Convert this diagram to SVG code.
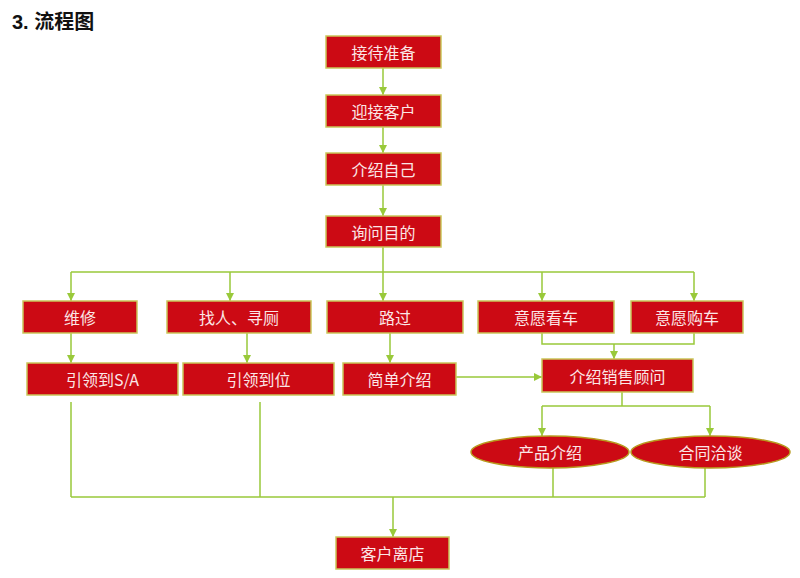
<svg xmlns="http://www.w3.org/2000/svg" width="800" height="578" viewBox="0 0 800 578">
<defs>
<marker id="ah" viewBox="0 0 10 10" refX="10" refY="5" markerWidth="8" markerHeight="8" markerUnits="userSpaceOnUse" orient="auto">
<path d="M0,0 L10,5 L0,10 Z" fill="#99C93A"/>
</marker>
<style>
.box{fill:#CC0A14;stroke:#C9C65A;stroke-width:1.5}
.ell{fill:#CC0A14;stroke:#B89A1E;stroke-width:1.5}
.t{font-family:"Noto Sans CJK SC","Liberation Sans",sans-serif;font-size:16px;fill:#FBE6E6;text-anchor:middle;dominant-baseline:central}
.c{fill:none;stroke:#99C93A;stroke-width:1.5}
.a{marker-end:url(#ah)}
</style>
</defs>
<rect width="800" height="578" fill="#FFFFFF"/>
<text x="12" y="29" font-family="'Liberation Sans','Noto Sans CJK SC',sans-serif" font-size="20" font-weight="bold" fill="#111">3. 流程图</text>

<g id="connectors">
<path class="c a" d="M383,68 V95"/>
<path class="c a" d="M383,127 V153"/>
<path class="c a" d="M383,185 V216"/>
<path class="c" d="M383,247 V272"/>
<path class="c" d="M71,272 H694"/>
<path class="c a" d="M71,272 V301"/>
<path class="c a" d="M230,272 V301"/>
<path class="c a" d="M383,272 V301"/>
<path class="c a" d="M542,272 V301"/>
<path class="c a" d="M694,272 V301"/>
<path class="c a" d="M71,333 V363"/>
<path class="c a" d="M247,333 V363"/>
<path class="c a" d="M390,333 V363"/>
<path class="c" d="M542,333 V344 H694 V333"/>
<path class="c a" d="M614,344 V359"/>
<path class="c a" d="M456,377 H542"/>
<path class="c" d="M622,392 V406"/>
<path class="c" d="M542,406 H710"/>
<path class="c a" d="M542,406 V436"/>
<path class="c a" d="M710,406 V436"/>
<path class="c" d="M71,402 V497"/>
<path class="c" d="M260,402 V497"/>
<path class="c" d="M553,468 V497"/>
<path class="c" d="M705,468 V497"/>
<path class="c" d="M71,497 H705"/>
<path class="c a" d="M393,497 V537"/>
</g>

<g id="n1"><rect class="box" x="326" y="36" width="115" height="32"/><text class="t" x="383.5" y="52">接待准备</text></g>
<g id="n2"><rect class="box" x="326" y="95" width="115" height="32"/><text class="t" x="383.5" y="111">迎接客户</text></g>
<g id="n3"><rect class="box" x="326" y="153" width="115" height="32"/><text class="t" x="383.5" y="169">介绍自己</text></g>
<g id="n4"><rect class="box" x="326" y="216" width="115" height="31"/><text class="t" x="383.5" y="231.5">询问目的</text></g>

<g id="n5"><rect class="box" x="23" y="301" width="114" height="32"/><text class="t" x="80" y="317">维修</text></g>
<g id="n6"><rect class="box" x="167" y="301" width="144" height="32"/><text class="t" x="239" y="317">找人、寻厕</text></g>
<g id="n7"><rect class="box" x="327" y="301" width="136" height="32"/><text class="t" x="395" y="317">路过</text></g>
<g id="n8"><rect class="box" x="478" y="301" width="136" height="32"/><text class="t" x="546" y="317">意愿看车</text></g>
<g id="n9"><rect class="box" x="631" y="301" width="112" height="32"/><text class="t" x="687" y="317">意愿购车</text></g>

<g id="n10"><rect class="box" x="27" y="363" width="151" height="32"/><text class="t" x="102.5" y="379">引领到S/A</text></g>
<g id="n11"><rect class="box" x="183" y="363" width="151" height="32"/><text class="t" x="258.5" y="379">引领到位</text></g>
<g id="n12"><rect class="box" x="343" y="363" width="113" height="32"/><text class="t" x="399.5" y="379">简单介绍</text></g>
<g id="n13"><rect class="box" x="542" y="359" width="151" height="33"/><text class="t" x="617.5" y="375.5">介绍销售顾问</text></g>

<g id="n14"><ellipse class="ell" cx="550" cy="452" rx="79" ry="16"/><text class="t" x="550" y="452">产品介绍</text></g>
<g id="n15"><ellipse class="ell" cx="710.5" cy="452" rx="79.5" ry="16"/><text class="t" x="710.5" y="452">合同洽谈</text></g>

<g id="n16"><rect class="box" x="336" y="537" width="113" height="32"/><text class="t" x="392.5" y="553">客户离店</text></g>
</svg>
